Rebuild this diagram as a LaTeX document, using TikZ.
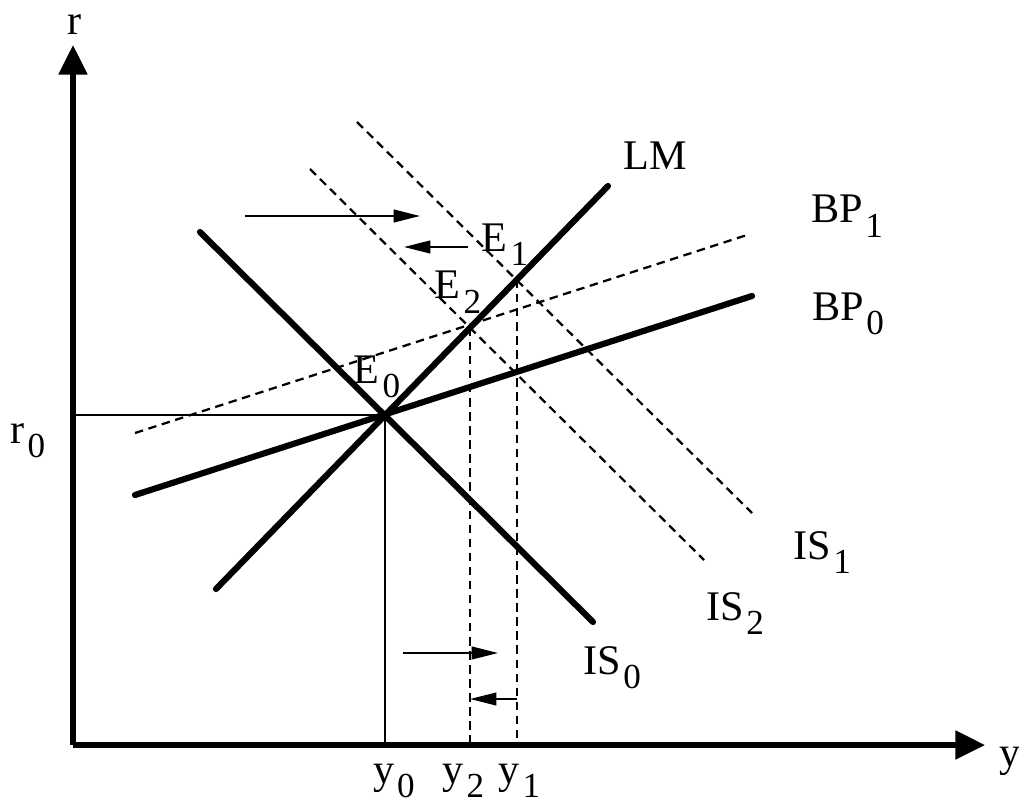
\documentclass[tikz,border=0pt]{standalone}
\usepackage{fontspec}
\setmainfont{Liberation Serif}
\usetikzlibrary{arrows.meta, positioning, calc}
\newcommand{\sbx}[1]{\kern1pt\raisebox{-5pt}{\fontsize{12.5}{14}\selectfont #1}}
\tikzset{
  axx/.style       = {-{Triangle[length=0.37cm,width=0.35cm]}, line width=1.8pt},
  curvebold/.style = {line width=2.2pt, line cap=round},
  curvedash/.style = {line width=0.8pt, dash pattern=on 3pt off 2pt},
  guide/.style     = {line width=0.7pt},
  guidedash/.style = {line width=0.7pt, dash pattern=on 3pt off 2pt},
  shiftarr/.style  = {-{Triangle[length=0.33cm,width=0.16cm]}, line width=0.6pt},
  lbl/.style       = {font=\fontsize{15}{18}\selectfont, inner sep=0pt},
}
\begin{document}
\begin{tikzpicture}

\useasboundingbox (-0.9125,-0.8125) rectangle (11.825,9.3125);

% 端点
\coordinate (O) at (0,0);
\coordinate (IS0a) at (1.5875,6.4125);
\coordinate (IS0b) at (6.5,1.5375);
\coordinate (LMa) at (1.7875,1.95);
\coordinate (LMb) at (6.6875,6.9875);
\coordinate (BP0a) at (0.775,3.125);
\coordinate (BP0b) at (8.4875,5.6125);
\coordinate (BP1a) at (0.775,3.9);
\coordinate (BP1b) at (8.425,6.375);
\coordinate (IS2a) at (2.9625,7.2);
\coordinate (IS2b) at (7.8875,2.3125);
\coordinate (IS1a) at (3.55,7.7875);
\coordinate (IS1b) at (8.4875,2.9);

% 均衡点
\coordinate (E0) at (intersection of IS0a--IS0b and LMa--LMb);
\coordinate (E1) at (intersection of IS1a--IS1b and LMa--LMb);
\coordinate (E2) at (intersection of IS2a--IS2b and LMa--LMb);

% 引线 r0, y0, y2, y1
\draw[guide] (E0 -| O) -- (E0);
\draw[guide] (E0) -- (E0 |- O);
\draw[guidedash] (E2) -- (E2 |- O);
\draw[guidedash] (E1) -- (E1 |- O);

% 移动后的曲线（虚线）
\draw[curvedash] (BP1a) -- (BP1b);
\draw[curvedash] (IS2a) -- (IS2b);
\draw[curvedash] (IS1a) -- (IS1b);

% 初始曲线（粗线）
\draw[curvebold] (IS0a) -- (IS0b);
\draw[curvebold] (LMa) -- (LMb);
\draw[curvebold] (BP0a) -- (BP0b);

% 坐标轴
\draw[axx] (O) -- (0,8.75);
\draw[axx] (O) -- (11.4,0);

% 移动箭头
\coordinate (topR) at (2.15,6.6125);
\coordinate (topRe) at (4.3375,6.6125);
\coordinate (topL) at (4.9375,6.225);
\coordinate (topLe) at (4.1375,6.225);
\coordinate (lowR) at (4.125,1.15);
\coordinate (lowRe) at (5.3125,1.15);
\coordinate (lowL) at (0,0.575);
\draw[shiftarr] (topR) -- (topRe);
\draw[shiftarr] (topL) -- (topLe);
\draw[shiftarr] (lowR) -- (lowRe);
\draw[shiftarr] (E1 |- lowL) -- (E2 |- lowL);

% 标注
\node[lbl] (rlab) at (0.025,9.0) {r};
\node[lbl] (ylab) at (11.71,-0.21) {y};
\node[lbl] (r0lab) at (-0.5625,3.8) {r\sbx{0}};
\node[lbl] (y0lab) at (4.0125,-0.45) {y\sbx{0}};
\node[lbl] (y2lab) at (4.88,-0.45) {y\sbx{2}};
\node[lbl] (y1lab) at (5.58,-0.45) {y\sbx{1}};
\node[lbl] (E0lab) at (3.8,4.6) {E\sbx{0}};
\node[lbl] (E1lab) at (5.4,6.25) {E\sbx{1}};
\node[lbl] (E2lab) at (4.8125,5.66) {E\sbx{2}};
\node[lbl] (LMlab) at (7.275,7.3625) {LM};
\node[lbl] (BP1lab) at (9.675,6.61) {BP\sbx{1}};
\node[lbl] (BP0lab) at (9.6875,5.39) {BP\sbx{0}};
\node[lbl] (IS1lab) at (9.3625,2.41) {IS\sbx{1}};
\node[lbl] (IS2lab) at (8.275,1.64) {IS\sbx{2}};
\node[lbl] (IS0lab) at (6.7375,0.97) {IS\sbx{0}};

\end{tikzpicture}
\end{document}
